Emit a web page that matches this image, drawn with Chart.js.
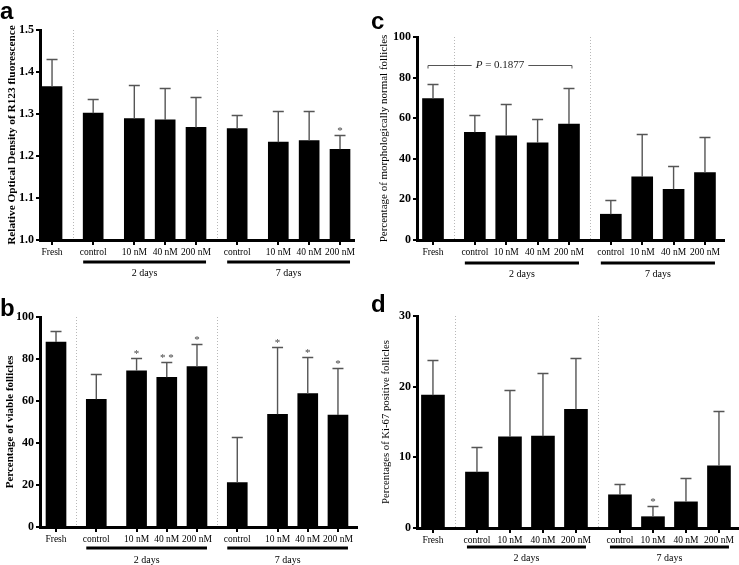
<!DOCTYPE html>
<html>
<head>
<meta charset="utf-8">
<title>Follicle figure</title>
<script src="https://cdn.jsdelivr.net/npm/chart.js@4.4.1/dist/chart.umd.min.js"></script>
<style>
  body { margin: 0; background: #fff; }
  #fig { position: relative; width: 739px; height: 565px; overflow: hidden; background: #fff; }
  #fig canvas { position: absolute; }
  .tag { position: absolute; font: bold 24px 'Liberation Sans', Arial, sans-serif; line-height: 24px; color: #000; }
</style>
</head>
<body>
<div id="fig">
  <canvas id="chartA" width="370" height="285" style="left:0;top:0"></canvas>
  <canvas id="chartB" width="370" height="280" style="left:0;top:285px"></canvas>
  <canvas id="chartC" width="369" height="285" style="left:370px;top:0"></canvas>
  <canvas id="chartD" width="369" height="280" style="left:370px;top:285px"></canvas>
  <div class="tag" style="left:0;top:-1px">a</div>
  <div class="tag" style="left:0;top:296px">b</div>
  <div class="tag" style="left:371px;top:9px">c</div>
  <div class="tag" style="left:371px;top:292px">d</div>
</div>
<script>
// shared categories
const categories = ['Fresh', 'control', '10 nM', '40 nM', '200 nM', 'control', '10 nM', '40 nM', '200 nM'];
const groupNames = ['2 days', '7 days'];
const groupFirst = [1, 5];
const groupLast = [4, 8];

// a - R123 fluorescence
const r123Mean = [1.365, 1.302, 1.289, 1.286, 1.268, 1.265, 1.233, 1.237, 1.216];
const r123Sd = [0.065, 0.033, 0.080, 0.077, 0.072, 0.033, 0.075, 0.071, 0.033];
const r123Sig = ['', '', '', '', '', '', '', '', '*'];
const r123Ticks = [1.0, 1.1, 1.2, 1.3, 1.4, 1.5];

// b - viable follicles (%)
const viableMean = [88.1, 60.8, 74.4, 71.3, 76.4, 21.2, 53.7, 63.5, 53.3];
const viableSd = [5.2, 12.0, 5.9, 7.2, 10.7, 21.5, 32.0, 17.4, 22.3];
const viableSig = ['', '', '*', '**', '*', '', '*', '*', '*'];

// c - morphologically normal follicles (%)
const normalMean = [69.7, 53.1, 51.3, 47.9, 57.1, 12.7, 31.1, 25.0, 33.2];
const normalSd = [7.1, 8.6, 15.6, 11.6, 17.6, 7.2, 20.9, 11.3, 17.6];
const normalSig = ['', '', '', '', '', '', '', '', ''];
const normalP = { from: 0, to: 4, at: 86, text: '0.1877' };

// d - Ki-67 positive follicles (%)
const ki67Mean = [18.8, 7.9, 12.9, 13.0, 16.8, 4.7, 1.6, 3.7, 8.8];
const ki67Sd = [5.0, 3.5, 6.6, 8.9, 7.3, 1.5, 1.5, 3.4, 7.7];
const ki67Sig = ['', '', '', '', '', '', '*', '', ''];
const ki67Ticks = [0, 10, 20, 30];

const pctTicks = [0, 20, 40, 60, 80, 100];

// bar slots on the x axis (gaps between Fresh / 2 days / 7 days)
const slotsAB = [0, 4, 8, 11, 14, 18, 22, 25, 28];
const slotsCD = [0, 4, 7, 10, 13, 17, 20, 23, 26];

const serif = "'Liberation Serif', 'Times New Roman', serif";

const extras = {
  id: 'extras',
  beforeDatasetsDraw(chart, args, o) {
    const { ctx, chartArea: ca, scales: { x } } = chart;
    ctx.save();
    ctx.strokeStyle = '#b8b8b8';
    ctx.lineWidth = 1;
    ctx.setLineDash([1, 2]);
    groupFirst.forEach(g => {
      const px = Math.round((x.getPixelForValue(o.slots[g - 1]) + x.getPixelForValue(o.slots[g])) / 2) + 0.5;
      ctx.beginPath();
      ctx.moveTo(px, ca.top);
      ctx.lineTo(px, ca.bottom);
      ctx.stroke();
    });
    ctx.restore();
  },
  afterDraw(chart, args, o) {
    const { ctx, chartArea: ca, scales: { x, y } } = chart;
    const bars = chart.getDatasetMeta(0).data;
    ctx.save();
    // error bars (upper half only) + significance marks
    ctx.strokeStyle = '#555';
    ctx.lineWidth = 1.4;
    ctx.fillStyle = '#444';
    ctx.font = '11px ' + serif;
    ctx.textAlign = 'center';
    ctx.textBaseline = 'alphabetic';
    bars.forEach((bar, i) => {
      const top = Math.round(y.getPixelForValue(o.mean[i] + o.sd[i])) + 0.5;
      ctx.beginPath();
      ctx.moveTo(bar.x, bar.y);
      ctx.lineTo(bar.x, top);
      ctx.moveTo(bar.x - 5.5, top);
      ctx.lineTo(bar.x + 5.5, top);
      ctx.stroke();
      if (o.sig[i]) ctx.fillText(o.sig[i].split('').join(' '), bar.x, top - 2);
    });

    // group underlines and labels
    ctx.fillStyle = '#000';
    ctx.font = '10px ' + serif;
    ctx.textBaseline = 'middle';
    groupNames.forEach((name, g) => {
      const x0 = x.getPixelForValue(o.slots[groupFirst[g]]) - 10;
      const x1 = x.getPixelForValue(o.slots[groupLast[g]]) + 10;
      ctx.fillRect(x0, ca.bottom + o.lineOff - 1.5, x1 - x0, 3);
      ctx.fillText(name, (x0 + x1) / 2, ca.bottom + o.textOff);
    });

    // P value bracket
    if (o.bracket) {
      const b = o.bracket;
      const x0 = x.getPixelForValue(o.slots[b.from]) - 5;
      const x1 = x.getPixelForValue(o.slots[b.to]) + 3;
      const yy = Math.round(y.getPixelForValue(b.at)) + 0.5;
      const mid = (x0 + x1) / 2;
      ctx.font = 'italic 11px ' + serif;
      const wP = ctx.measureText('P').width;
      ctx.font = '11px ' + serif;
      const rest = ' = ' + b.text;
      const wR = ctx.measureText(rest).width;
      const tx = mid - (wP + wR) / 2;
      ctx.strokeStyle = '#555';
      ctx.lineWidth = 1;
      ctx.beginPath();
      ctx.moveTo(x0, yy + 3); ctx.lineTo(x0, yy); ctx.lineTo(tx - 4, yy);
      ctx.moveTo(tx + wP + wR + 4, yy); ctx.lineTo(x1, yy); ctx.lineTo(x1, yy + 3);
      ctx.stroke();
      ctx.fillStyle = '#222';
      ctx.textAlign = 'left';
      ctx.font = 'italic 11px ' + serif;
      ctx.fillText('P', tx, yy);
      ctx.font = '11px ' + serif;
      ctx.fillText(rest, tx + wP, yy);
    }
    ctx.restore();
  }
};

function drawPanel(id, p) {
  new Chart(document.getElementById(id), {
    type: 'bar',
    data: {
      datasets: [{
        data: p.mean.map((v, i) => ({ x: p.slots[i], y: v })),
        backgroundColor: '#000',
        borderWidth: 0,
        barThickness: p.barW
      }]
    },
    options: {
      responsive: false,
      animation: false,
      layout: { padding: p.pad },
      plugins: {
        legend: { display: false },
        tooltip: { enabled: false },
        extras: {
          mean: p.mean, sd: p.sd, sig: p.sig, slots: p.slots,
          lineOff: p.lineOff, textOff: p.textOff, bracket: p.bracket
        }
      },
      scales: {
        x: {
          type: 'linear',
          min: p.xMin,
          max: p.xMax,
          offset: false,
          afterBuildTicks: s => { s.ticks = p.slots.map(v => ({ value: v })); },
          afterFit: s => { s.height = p.xH; },
          grid: { offset: false, drawOnChartArea: false, tickLength: 5, lineWidth: 2, color: '#000' },
          border: { width: 3, color: '#000' },
          ticks: {
            autoSkip: false, maxRotation: 0, padding: 2, color: '#000',
            font: { family: serif, size: 9.5 },
            callback: (v, i) => categories[i]
          }
        },
        y: {
          min: p.ticks[0],
          max: p.ticks[p.ticks.length - 1],
          afterBuildTicks: s => { s.ticks = p.ticks.map(v => ({ value: v })); },
          afterFit: s => { s.width = p.yW; },
          grid: { drawOnChartArea: false, tickLength: 4, lineWidth: 2, color: '#000' },
          border: { width: 3, color: '#000' },
          ticks: {
            padding: 2, color: '#000',
            font: { family: serif, size: 12, weight: 'bold' },
            callback: v => p.fmt(v)
          },
          title: {
            display: true, text: p.title, color: '#000',
            font: { family: serif, size: p.titleSize, weight: p.titleWeight },
            padding: { top: p.titlePad, bottom: 0 }
          }
        }
      }
    },
    plugins: [extras]
  });
}

drawPanel('chartA', {
  mean: r123Mean, sd: r123Sd, sig: r123Sig, slots: slotsAB, ticks: r123Ticks,
  fmt: v => v.toFixed(1),
  title: 'Relative Optical Density of R123 fluorescence', titleSize: 11.3, titleWeight: 'bold', titlePad: 5,
  xMin: -1.17, xMax: 29.36, barW: 20,
  pad: { top: 30, right: 16, bottom: 0, left: 0 }, yW: 40, xH: 45,
  lineOff: 22, textOff: 33
});

drawPanel('chartB', {
  mean: viableMean, sd: viableSd, sig: viableSig, slots: slotsAB, ticks: pctTicks,
  fmt: v => String(v),
  title: 'Percentage of viable follicles', titleSize: 11, titleWeight: 'bold', titlePad: 4,
  xMin: -1.59, xMax: 29.89, barW: 20,
  pad: { top: 32, right: 13, bottom: 0, left: 0 }, yW: 40, xH: 38,
  lineOff: 21, textOff: 33
});

drawPanel('chartC', {
  mean: normalMean, sd: normalSd, sig: normalSig, slots: slotsCD, ticks: pctTicks,
  fmt: v => String(v),
  title: 'Percentage of morphologically normal follicles', titleSize: 11, titleWeight: 'normal', titlePad: 8,
  xMin: -1.53, xMax: 27.82, barW: 21,
  pad: { top: 37, right: 15, bottom: 0, left: 0 }, yW: 47, xH: 45,
  lineOff: 23, textOff: 34, bracket: normalP
});

drawPanel('chartD', {
  mean: ki67Mean, sd: ki67Sd, sig: ki67Sig, slots: slotsCD, ticks: ki67Ticks,
  fmt: v => String(v),
  title: 'Percentages of Ki-67 positive follicles', titleSize: 10.7, titleWeight: 'normal', titlePad: 10,
  xMin: -1.45, xMax: 27.73, barW: 23,
  pad: { top: 31, right: 1, bottom: 0, left: 0 }, yW: 47, xH: 37,
  lineOff: 19, textOff: 30
});
</script>
</body>
</html>
